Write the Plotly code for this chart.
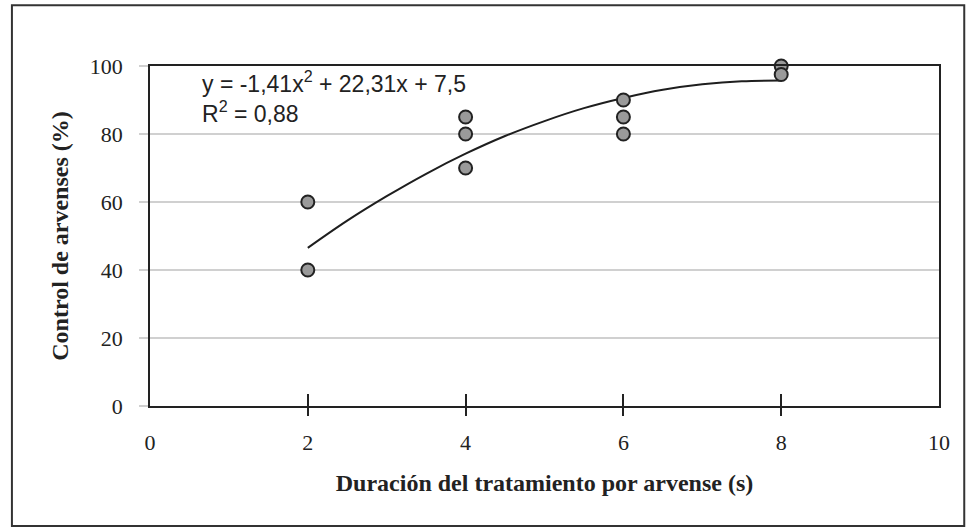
import plotly.graph_objects as go

# observed points
duracion = [2, 2, 4, 4, 4, 6, 6, 6, 8, 8]
control = [60, 40, 85, 80, 70, 90, 85, 80, 100, 97.5]

# fitted trend curve
curva_x = [2, 2.5, 3, 3.5, 4, 4.5, 5, 5.5, 6, 6.5, 7, 7.5, 8]
curva_y = [46.5, 54.5, 61.7, 68.3, 74.2, 79.4, 83.8, 87.6, 90.6, 93.0, 94.6, 95.5, 95.7]

x_ticks = [0, 2, 4, 6, 8, 10]
x_marcas = [2, 4, 6, 8]
y_ticks = [0, 20, 40, 60, 80, 100]

ecuacion = "y = -1,41x<sup>2</sup> + 22,31x + 7,5<br>R<sup>2</sup> = 0,88"

fig = go.Figure()

fig.add_trace(go.Scatter(
    x=curva_x,
    y=curva_y,
    mode="lines",
    line=dict(color="#1e1e1e", width=2, shape="spline"),
    showlegend=False,
    hoverinfo="skip"
))

fig.add_trace(go.Scatter(
    x=duracion,
    y=control,
    mode="markers",
    marker=dict(size=13, color="#9a9a9a", line=dict(color="#222222", width=2)),
    cliponaxis=False,
    showlegend=False
))

# invisible helper traces so the tick-only axes render
for eje in ["x2", "x3"]:
    fig.add_trace(go.Scatter(
        x=[0, 10], y=[0, 0], xaxis=eje, mode="markers",
        marker=dict(opacity=0), showlegend=False, hoverinfo="skip"
    ))

serif = "Liberation Serif, Times New Roman, serif"

tick_axis = dict(
    range=[0, 10],
    overlaying="x",
    side="bottom",
    tickvals=x_marcas,
    ticklen=9,
    tickwidth=1.5,
    tickcolor="#222222",
    showticklabels=False,
    showgrid=False,
    zeroline=False,
    showline=False
)

fig.update_layout(
    width=966,
    height=527,
    margin=dict(l=150, r=27, t=66, b=121),
    paper_bgcolor="white",
    plot_bgcolor="white",
    xaxis=dict(
        range=[0, 10],
        tickvals=x_ticks,
        ticktext=[str(v) for v in x_ticks],
        ticks="",
        ticklabelstandoff=16,
        showgrid=False,
        zeroline=False,
        showline=True,
        linecolor="#222222",
        linewidth=1.5,
        mirror=True,
        tickfont=dict(family=serif, size=22, color="#222222"),
        title=dict(
            text="<b>Duración del tratamiento por arvense (s)</b>",
            font=dict(family=serif, size=24, color="#222222"),
            standoff=20
        )
    ),
    xaxis2=dict(tick_axis, ticks="outside"),
    xaxis3=dict(tick_axis, ticks="inside", ticklen=12),
    yaxis=dict(
        range=[0, 100],
        tickvals=y_ticks,
        ticks="outside",
        ticklen=9,
        tickwidth=1.5,
        tickcolor="#d0d0d0",
        ticklabelstandoff=12,
        showgrid=True,
        gridcolor="#d0d0d0",
        gridwidth=1.5,
        zeroline=False,
        showline=True,
        linecolor="#222222",
        linewidth=1.5,
        mirror=True,
        tickfont=dict(family=serif, size=22, color="#222222"),
        title=dict(
            text="<b>Control de arvenses (%)</b>",
            font=dict(family=serif, size=24, color="#222222"),
            standoff=14
        )
    ),
    annotations=[dict(
        x=0.063, y=1.003, xref="paper", yref="paper",
        xanchor="left", yanchor="top", align="left",
        text=ecuacion, showarrow=False,
        font=dict(family="Liberation Sans, Arial, sans-serif", size=23, color="#222222")
    )],
    shapes=[dict(
        type="rect", xref="paper", yref="paper",
        x0=-0.175, x1=1.032, y0=-0.353, y1=1.179,
        line=dict(color="#333333", width=2)
    )]
)

fig.write_html(
    "out.html",
    config={"displayModeBar": False},
    post_script="document.body.style.margin='0';"
)
